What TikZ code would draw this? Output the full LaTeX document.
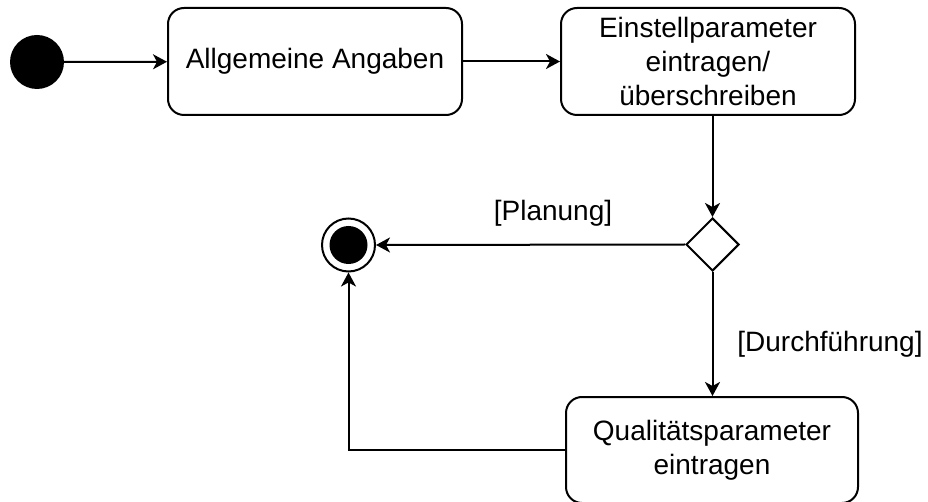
\documentclass[tikz,border=0pt]{standalone}
\usepackage{fontspec}
\setmainfont{Liberation Sans}
\usetikzlibrary{arrows.meta,shapes.geometric,calc}
\begin{document}
\begin{tikzpicture}[x=1pt,y=-1pt,
  every node/.style={font=\fontsize{28}{33.6}\selectfont},
  action/.style={draw,line width=2pt,rounded corners=16pt,align=center,
    inner sep=0pt},
  flow/.style={line width=2pt,-{Stealth[length=14pt,width=15pt,inset=4pt]}},
  plain/.style={line width=2pt}]
  \useasboundingbox (0,0) rectangle (928,502);

  % initial and final states
  \node[circle,fill=black,minimum size=54pt,inner sep=0pt] (init) at (37,62) {};
  \node[circle,draw,line width=2pt,fill=white,minimum size=53pt,inner sep=0pt] (final) at (348.5,245) {};
  \node[circle,fill=black,minimum size=38pt,inner sep=0pt] (finaldot) at (348.5,245) {};

  % actions
  \node[action,minimum width=294pt,minimum height=107pt] (general) at (315,61.5) {Allgemeine Angaben};
  \node[action,minimum width=294pt,minimum height=107pt] (setup) at (708,61.5) {Einstellparameter\\eintragen/\\überschreiben};
  \node[action,minimum width=292pt,minimum height=106pt] (quality) at (712,450) {Qualitätsparameter\\eintragen};

  % decision
  \node[diamond,draw,line width=2pt,minimum width=53pt,minimum height=53pt,inner sep=0pt] (decide) at (712.5,244.5) {};

  % guards
  \node (planning) at (553,213) {[Planung]};
  \node (execution) at (830,344) {[Durchführung]};

  % flows
  \draw[flow] (init) -- (general);
  \draw[flow] (general) -- (setup);
  \draw[flow] (setup.south -| decide.north) -- (decide.north);
  \draw[flow] (decide.west) -- (final.east);
  \draw[flow] (decide.south) -- (quality.north -| decide.south);
  \draw[flow] (quality.west) -| (final.south);
\end{tikzpicture}
\end{document}
